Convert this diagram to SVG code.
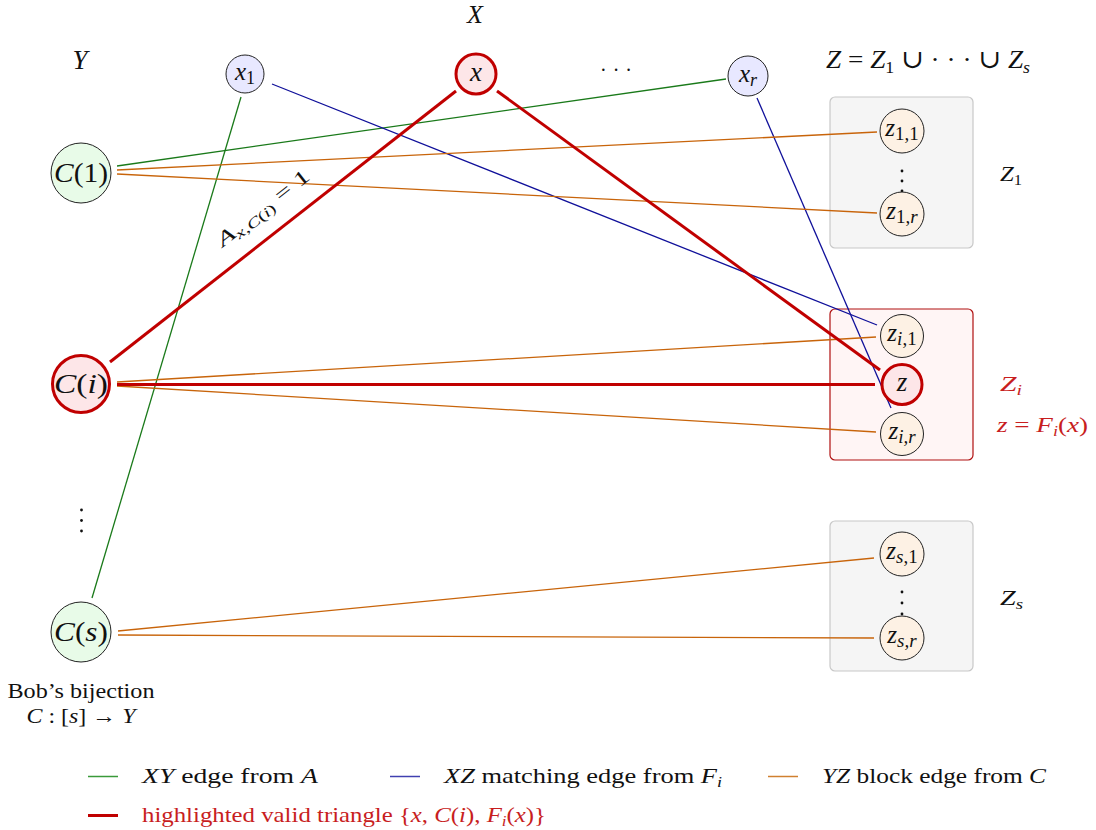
<svg xmlns="http://www.w3.org/2000/svg" width="1096" height="830" viewBox="0 0 1096 830">
<style>
text{font-family:"Liberation Serif","DejaVu Serif",serif;fill:#111}
.m{font-style:italic}
.red{fill:#c81e1e}
.nx{fill:#e8e8ff;stroke:#222;stroke-width:1}
.ny{fill:#e8fbe8;stroke:#222;stroke-width:1}
.nz{fill:#fdf1e4;stroke:#222;stroke-width:1}
.hl{fill:#fde6e8;stroke:#c00000;stroke-width:3}
.g{stroke:#1a7a1a;stroke-width:1.3;fill:none}
.b{stroke:#10109a;stroke-width:1.3;fill:none}
.o{stroke:#c8640a;stroke-width:1.3;fill:none}
.r{stroke:#c00000;stroke-width:3;fill:none}
.blk{fill:#f5f5f5;stroke:#c8c8c8;stroke-width:1.2}
.blkr{fill:#fff5f5;stroke:#b01010;stroke-width:1.2}
.dot{fill:#111}
</style>

<!-- blocks -->
<g id="block-Z1"><rect class="blk" x="830" y="97" width="143" height="151" rx="5"/></g>
<g id="block-Zi"><rect class="blkr" x="830" y="309" width="143" height="151" rx="5"/></g>
<g id="block-Zs"><rect class="blk" x="830" y="521" width="143" height="150" rx="5"/></g>

<!-- connectors -->
<g id="connectors">
  <line class="g" x1="241" y1="97" x2="92" y2="598"/>
  <line class="g" x1="726" y1="79" x2="117" y2="166"/>
  <line class="b" x1="272" y1="84" x2="877" y2="325"/>
  <line class="b" x1="757" y1="98" x2="891" y2="408"/>
  <line class="o" x1="117" y1="170" x2="877" y2="132"/>
  <line class="o" x1="117" y1="174" x2="877" y2="213"/>
  <line class="o" x1="117" y1="382" x2="876" y2="337"/>
  <line class="o" x1="117" y1="386" x2="876" y2="432"/>
  <line class="o" x1="118" y1="631" x2="874" y2="558"/>
  <line class="o" x1="118" y1="635" x2="874" y2="638"/>
  <line class="r" x1="456" y1="91" x2="110" y2="362"/>
  <line class="r" x1="497" y1="91" x2="880" y2="370"/>
  <line class="r" x1="117" y1="384.5" x2="875" y2="384.5"/>
  <text transform="translate(267 213) rotate(-38)" text-anchor="middle" font-size="20" textLength="112" lengthAdjust="spacingAndGlyphs"><tspan class="m">A</tspan><tspan class="m" font-size="14" dy="4">x</tspan><tspan font-size="14">,</tspan><tspan class="m" font-size="14">C</tspan><tspan font-size="14">(</tspan><tspan class="m" font-size="14">i</tspan><tspan font-size="14">)</tspan><tspan dy="-4"> = 1</tspan></text>
</g>

<!-- headers -->
<text x="475" y="23" text-anchor="middle" font-size="26" class="m">X</text>
<text x="80" y="69" text-anchor="middle" font-size="27" class="m">Y</text>
<text x="616" y="77" text-anchor="middle" font-size="20" textLength="32" lengthAdjust="spacing">· · ·</text>
<text x="826" y="68" font-size="26" textLength="204" lengthAdjust="spacingAndGlyphs"><tspan class="m">Z</tspan> = <tspan class="m">Z</tspan><tspan font-size="17" dy="5">1</tspan><tspan dy="-5"> ∪ · · · ∪ </tspan><tspan class="m">Z</tspan><tspan class="m" font-size="17" dy="5">s</tspan></text>

<!-- X nodes -->
<g id="node-x1"><circle class="nx" cx="245" cy="74" r="19"/><text x="245" y="80" text-anchor="middle" font-size="25"><tspan class="m">x</tspan><tspan font-size="18" dy="4">1</tspan></text></g>
<g id="node-x"><circle class="hl" cx="476" cy="74" r="20"/><text x="476" y="81" text-anchor="middle" font-size="27" class="m">x</text></g>
<g id="node-xr"><circle class="nx" cx="748" cy="76" r="20"/><text x="748" y="82" text-anchor="middle" font-size="25"><tspan class="m">x</tspan><tspan class="m" font-size="18" dy="4">r</tspan></text></g>

<!-- Y nodes -->
<g id="node-C1"><circle class="ny" cx="81" cy="173" r="30"/><text x="81" y="182" text-anchor="middle" font-size="27" textLength="54" lengthAdjust="spacingAndGlyphs"><tspan class="m">C</tspan>(1)</text></g>
<g id="node-Ci"><circle class="hl" cx="81" cy="384" r="28.5"/><text x="81" y="393" text-anchor="middle" font-size="27" textLength="54" lengthAdjust="spacingAndGlyphs"><tspan class="m">C</tspan>(<tspan class="m">i</tspan>)</text></g>
<g id="dots-Y"><circle class="dot" cx="81.5" cy="510" r="1.4"/><circle class="dot" cx="81.5" cy="520.5" r="1.4"/><circle class="dot" cx="81.5" cy="531" r="1.4"/></g>
<g id="node-Cs"><circle class="ny" cx="81" cy="632" r="30"/><text x="81" y="641" text-anchor="middle" font-size="27" textLength="54" lengthAdjust="spacingAndGlyphs"><tspan class="m">C</tspan>(<tspan class="m">s</tspan>)</text></g>
<text x="81" y="698" text-anchor="middle" font-size="22" textLength="147" lengthAdjust="spacingAndGlyphs">Bob’s bijection</text>
<text x="81" y="723" text-anchor="middle" font-size="22" textLength="109" lengthAdjust="spacingAndGlyphs"><tspan class="m">C</tspan> : [<tspan class="m">s</tspan>] → <tspan class="m">Y</tspan></text>

<!-- Z nodes -->
<g id="node-z11"><circle class="nz" cx="902" cy="131" r="22"/><text x="902" y="136" text-anchor="middle" font-size="25"><tspan class="m">z</tspan><tspan font-size="19" dy="4">1,1</tspan></text></g>
<g id="dots-Z1"><circle class="dot" cx="902" cy="171" r="1.4"/><circle class="dot" cx="902" cy="181" r="1.4"/><circle class="dot" cx="902" cy="191" r="1.4"/></g>
<g id="node-z1r"><circle class="nz" cx="902" cy="214" r="22"/><text x="902" y="219" text-anchor="middle" font-size="25"><tspan class="m">z</tspan><tspan font-size="19" dy="4">1,<tspan class="m">r</tspan></tspan></text></g>
<text x="1000" y="181" font-size="21" textLength="22" lengthAdjust="spacingAndGlyphs"><tspan class="m">Z</tspan><tspan font-size="14" dy="4">1</tspan></text>

<g id="node-zi1"><circle class="nz" cx="902" cy="336" r="21.5"/><text x="902" y="341" text-anchor="middle" font-size="25"><tspan class="m">z</tspan><tspan font-size="19" dy="4"><tspan class="m">i</tspan>,1</tspan></text></g>
<g id="node-z"><circle class="hl" cx="902" cy="384.5" r="20"/><text x="902" y="391" text-anchor="middle" font-size="27" class="m">z</text></g>
<g id="node-zir"><circle class="nz" cx="902" cy="434" r="21.5"/><text x="902" y="439" text-anchor="middle" font-size="25"><tspan class="m">z</tspan><tspan font-size="19" dy="4" class="m">i,r</tspan></text></g>
<text x="1000" y="391" font-size="21" class="red" textLength="22" lengthAdjust="spacingAndGlyphs"><tspan class="m">Z</tspan><tspan class="m" font-size="14" dy="4">i</tspan></text>
<text x="997" y="432" font-size="21" class="red" textLength="91" lengthAdjust="spacingAndGlyphs"><tspan class="m">z</tspan> = <tspan class="m">F</tspan><tspan class="m" font-size="14" dy="4">i</tspan><tspan dy="-4">(</tspan><tspan class="m">x</tspan>)</text>

<g id="node-zs1"><circle class="nz" cx="902" cy="554" r="22"/><text x="902" y="559" text-anchor="middle" font-size="25"><tspan class="m">z</tspan><tspan font-size="19" dy="4"><tspan class="m">s</tspan>,1</tspan></text></g>
<g id="dots-Zs"><circle class="dot" cx="902" cy="592" r="1.4"/><circle class="dot" cx="902" cy="603" r="1.4"/><circle class="dot" cx="902" cy="614" r="1.4"/></g>
<g id="node-zsr"><circle class="nz" cx="902" cy="638" r="22"/><text x="902" y="643" text-anchor="middle" font-size="25"><tspan class="m">z</tspan><tspan font-size="19" dy="4" class="m">s,r</tspan></text></g>
<text x="1000" y="605" font-size="21" textLength="23" lengthAdjust="spacingAndGlyphs"><tspan class="m">Z</tspan><tspan class="m" font-size="14" dy="4">s</tspan></text>

<!-- legend -->
<g id="legend">
  <line x1="88" y1="776.5" x2="118" y2="776.5" stroke="#3a9a3a" stroke-width="1.5"/>
  <text x="142" y="783" font-size="22" textLength="176" lengthAdjust="spacingAndGlyphs"><tspan class="m">XY</tspan> edge from <tspan class="m">A</tspan></text>
  <line x1="390" y1="776.5" x2="420" y2="776.5" stroke="#4040b0" stroke-width="1.5"/>
  <text x="444" y="783" font-size="22" textLength="278" lengthAdjust="spacingAndGlyphs"><tspan class="m">XZ</tspan> matching edge from <tspan class="m">F</tspan><tspan class="m" font-size="15" dy="4">i</tspan></text>
  <line x1="768" y1="776.5" x2="798" y2="776.5" stroke="#d08030" stroke-width="1.5"/>
  <text x="822" y="783" font-size="22" textLength="224" lengthAdjust="spacingAndGlyphs"><tspan class="m">YZ</tspan> block edge from <tspan class="m">C</tspan></text>
  <line x1="88" y1="815.5" x2="118" y2="815.5" stroke="#c00000" stroke-width="3"/>
  <text x="142" y="822" font-size="22" class="red" textLength="404" lengthAdjust="spacingAndGlyphs">highlighted valid triangle {<tspan class="m">x</tspan>, <tspan class="m">C</tspan>(<tspan class="m">i</tspan>), <tspan class="m">F</tspan><tspan class="m" font-size="15" dy="4">i</tspan><tspan dy="-4">(</tspan><tspan class="m">x</tspan>)}</text>
</g>
</svg>
